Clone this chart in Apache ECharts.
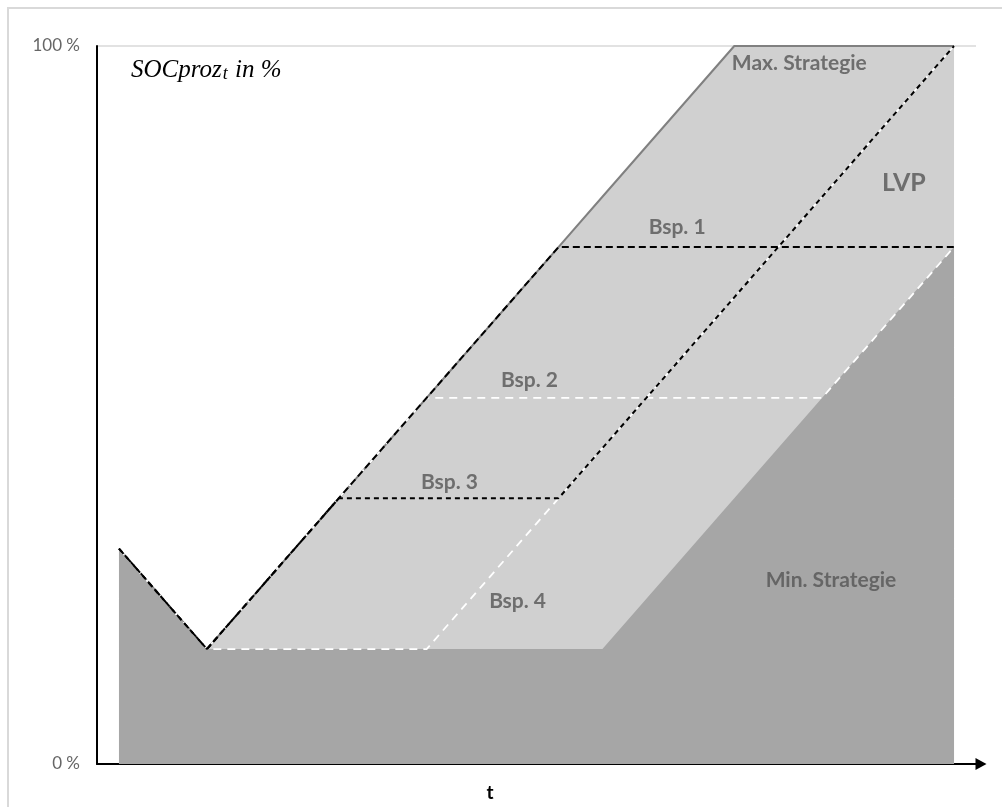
<!DOCTYPE html>
<html>
<head>
<meta charset="utf-8">
<script src="https://cdn.jsdelivr.net/npm/echarts@6/dist/echarts.min.js"></script>
<style>
html,body{margin:0;padding:0;background:#fff;}
#chart{width:1002px;height:807px;}
</style>
</head>
<body>
<div id="chart"></div>
<script>
// time steps (category index)
const tSteps = [0,1,2,3,4,5,6,7,8,9,10,11,12,13,14,15,16,17,18,19];
// SOC in %
const maxStrategie = [30,23,16,23,30,37,44,51,58,65,72,79,86,93,100,100,100,100,100,100];
const minStrategie = [30,23,16,16,16,16,16,16,16,16,16,16,23,30,37,44,51,58,65,72];
const bsp1 = [30,23,16,23,30,37,44,51,58,65,72,72,72,72,72,72,72,72,72,72];
const bsp2 = [30,23,16,23,30,37,44,51,51,51,51,51,51,51,51,51,51,58,65,72];
const bsp3 = [30,23,16,23,30,37,37,37,37,37,37,44,51,58,65,72,79,86,93,100];
const bsp4 = [30,23,16,16,16,16,16,16,23,30,37,44,51,58,65,72,79,86,93,100];
// annotations (text, position in t / %)
const labelText = ['Max. Strategie','LVP','Bsp. 1','Bsp. 2','Bsp. 3','Bsp. 4','Min. Strategie'];
const labelT =    [15.48, 17.86, 12.7, 9.34, 7.52, 9.07, 16.2];
const labelPct =  [97.6, 80.9, 74.8, 53.5, 39.2, 22.7, 25.6];
const yTicks = [0, 100];

const pairs = arr => tSteps.map((t, i) => [t, arr[i]]);

const chart = echarts.init(document.getElementById('chart'), null, {renderer: 'canvas'});
const dashLine = (data, color, dash, width, z) => ({
  type: 'line', data: pairs(data), symbol: 'none', silent: true, z: z,
  lineStyle: {color: color, width: width, type: dash}
});

chart.setOption({
  animation: false,
  backgroundColor: '#fff',
  grid: {left: 97, right: 26, top: 46, bottom: 39, containLabel: false},
  xAxis: {
    type: 'value', min: -0.5, max: 19.5,
    axisLine: {show: true, onZero: false, symbol: ['none', 'triangle'], symbolSize: [12, 11], symbolOffset: [0, 5],
      lineStyle: {color: '#000', width: 2}},
    axisTick: {show: false}, axisLabel: {show: false}, splitLine: {show: false},
    name: 't', nameLocation: 'middle', nameGap: 19,
    nameTextStyle: {fontFamily: 'Lato', fontWeight: 'bold', fontSize: 19, color: '#000', padding: [0, 93, 0, 0]}
  },
  yAxis: {
    type: 'value', min: yTicks[0], max: yTicks[1], interval: 100,
    axisLine: {show: true, onZero: false, lineStyle: {color: '#000', width: 2}},
    axisTick: {show: false},
    axisLabel: {formatter: '{value} %', margin: 17, fontFamily: 'Lato', fontSize: 17, color: '#666666'},
    splitLine: {show: true, lineStyle: {color: '#d9d9d9', width: 1.5}}
  },
  graphic: [
    {type: 'rect', shape: {x: 8, y: 8, width: 1100, height: 1000}, style: {fill: null, stroke: '#d9d9d9', lineWidth: 2}, z: -10, silent: true},
    {type: 'text', left: 131, top: 58, z: 100, silent: true,
     style: {
       text: '{i|SOCproz}{s|t}{i| in %}',
       rich: {
         i: {fontFamily: 'Liberation Serif', fontStyle: 'italic', fontSize: 25, fill: '#000', verticalAlign: 'bottom'},
         s: {fontFamily: 'Liberation Serif', fontStyle: 'italic', fontSize: 18, fill: '#000', padding: [10, 1, 0, 1], verticalAlign: 'bottom'}
       }
     }}
  ],
  series: [
    {type: 'line', data: pairs(maxStrategie), symbol: 'none', silent: true, z: 1,
     lineStyle: {color: '#808080', width: 2}, areaStyle: {color: '#d0d0d0', opacity: 1}},
    {type: 'line', data: pairs(minStrategie), symbol: 'none', silent: true, z: 2,
     lineStyle: {width: 0, color: '#a6a6a6'}, areaStyle: {color: '#a6a6a6', opacity: 1}},
    dashLine(bsp2, '#ffffff', [8, 6], 1.8, 3),
    dashLine(bsp4, '#ffffff', [8, 6], 1.8, 3),
    dashLine(bsp1, '#000000', [7, 4], 2, 4),
    dashLine(bsp3, '#000000', [5, 4], 2, 4),
    {type: 'scatter', symbolSize: 0, silent: true, z: 10,
     data: labelText.map((txt, i) => ({
       value: [labelT[i], labelPct[i]], name: txt,
       label: {fontSize: txt === 'LVP' ? 25 : 21}
     })),
     label: {show: true, position: 'inside', formatter: p => p.name,
       fontFamily: 'Lato', fontWeight: 'bold', fontSize: 21, color: '#555555'}}
  ]
});
</script>
</body>
</html>
